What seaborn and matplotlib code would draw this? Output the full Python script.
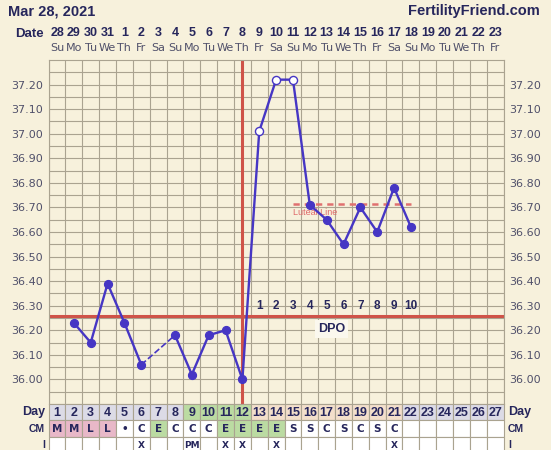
import numpy as np
import pandas as pd
import matplotlib
matplotlib.use('Agg')
import matplotlib.pyplot as plt
import matplotlib.transforms as mtransforms
import seaborn as sns

# chart values
cycle_days = list(range(1, 28))
dates = [28, 29, 30, 31] + list(range(1, 24))
weekdays = ['Su', 'Mo', 'Tu', 'We', 'Th', 'Fr', 'Sa'] * 4
temp_days = [2, 3, 4, 5, 6, 8, 9, 10, 11, 12, 13, 14, 15, 16, 17, 18, 19, 20, 21, 22]
temps = [36.23, 36.15, 36.39, 36.23, 36.06, 36.18, 36.02, 36.18, 36.20, 36.00,
         37.01, 37.22, 37.22, 36.71, 36.65, 36.55, 36.70, 36.60, 36.78, 36.62]
open_days = [13, 14, 15]
coverline = 36.26
ovulation_day = 12
luteal_start, luteal_end, luteal_temp = 15, 22, 36.715
dpo_days = list(range(13, 23))
dpo_labels = [str(i) for i in range(1, 11)]
cm_labels = ['M', 'M', 'L', 'L', '\u2022', 'C', 'E', 'C', 'C', 'C', 'E', 'E', 'E', 'E',
             'S', 'S', 'C', 'S', 'C', 'S', 'C'] + [''] * 6
i_labels = [''] * 27
for d, t in [(6, 'X'), (9, 'PM'), (11, 'X'), (12, 'X'), (14, 'X'), (21, 'X')]:
    i_labels[d - 1] = t

# colours
BG = '#f7f1dc'
GRID = '#aaa390'
NAVY = '#26265c'
TICK = '#50506a'
LINE = '#4636c4'
RED = '#cf5348'
LAV = '#dcdbe6'
GREEN = '#bbdba2'
PEACH = '#f3dfcb'
PINK = '#e8b8c8'

day_colors = [LAV] * 8 + [GREEN] * 4 + [PEACH] * 9 + [LAV] * 6
cm_colors = [PINK] * 4 + ['white', 'white', GREEN, 'white', 'white', 'white',
                          GREEN, GREEN, GREEN, GREEN] + ['white'] * 13

sns.set_style('white')
plt.rcParams['font.family'] = ['DejaVu Sans']

W, H = 551, 450
fig = plt.figure(figsize=(W / 100, H / 100), dpi=100, facecolor=BG)

x0, x1 = 48.6, 503.6
ax = fig.add_axes([x0 / W, 1 - 404 / H, (x1 - x0) / W, (404 - 60) / H])
ax.set_facecolor(BG)

df = pd.DataFrame({'day': temp_days, 'temp': temps})
df['segment'] = np.where(df['day'] < 7, 'a', 'b')

# grid
ax.set_xlim(0.5, 27.5)
ax.set_ylim(35.90, 37.30)
ax.set_xticks(np.arange(0.5, 27.6, 1.0))
ax.set_xticklabels([])
ax.set_yticks(np.round(np.arange(36.0, 37.21, 0.1), 2))
ax.set_yticks(np.round(np.arange(35.95, 37.30, 0.1), 2), minor=True)
ax.set_yticklabels(['%.2f' % v for v in np.arange(36.0, 37.21, 0.1)])
ax.grid(True, which='both', color=GRID, linewidth=0.8)
ax.tick_params(axis='both', which='both', length=0)
ax.tick_params(axis='y', labelleft=True, labelright=True, labelsize=8, labelcolor=TICK, pad=4)
for s in ax.spines.values():
    s.set_color(GRID)
    s.set_linewidth(0.8)
ax.set_axisbelow(True)

# coverline and ovulation
ax.axhline(coverline, color=RED, linewidth=2.2, zorder=2)
ax.axvline(ovulation_day, color=RED, linewidth=2.2, zorder=2)

# luteal line
ax.plot([luteal_start, luteal_end], [luteal_temp, luteal_temp], color='#e07070',
        linestyle=(0, (2.5, 2)), linewidth=1.8, zorder=2)
ax.text(luteal_start, luteal_temp - 0.036, 'Luteal Line', color='#e06a6a', fontsize=6.5,
        ha='left', va='center', family='Liberation Sans')

# temperatures
sns.lineplot(data=df, x='day', y='temp', units='segment', estimator=None, color=LINE,
             linewidth=1.7, ax=ax, zorder=3)
gap = df[df['day'].isin([6, 8])]
sns.lineplot(data=gap, x='day', y='temp', color=LINE, linewidth=1.2, linestyle='--',
             ax=ax, zorder=3)
closed = df[~df['day'].isin(open_days)]
opened = df[df['day'].isin(open_days)]
sns.scatterplot(data=closed, x='day', y='temp', color=LINE, s=34, edgecolor=LINE,
                linewidth=0.8, ax=ax, zorder=4)
sns.scatterplot(data=opened, x='day', y='temp', color='white', s=34, edgecolor=LINE,
                linewidth=1.0, ax=ax, zorder=4)
ax.set_xlabel('')
ax.set_ylabel('')

# DPO
for d, lab in zip(dpo_days, dpo_labels):
    ax.text(d, 36.30, lab, color=NAVY, fontsize=8.5, fontweight='bold', ha='center',
            va='center', family='Liberation Sans', zorder=5)
ax.text(17.3, 36.205, 'DPO', color=NAVY, fontsize=9, fontweight='bold', ha='center',
        va='center', family='Liberation Sans', zorder=5,
        bbox=dict(facecolor='#fbf8ee', edgecolor='none', pad=2))

# header
tr = mtransforms.blended_transform_factory(ax.transData, fig.transFigure)
fig.text(8 / W, 1 - 11 / H, 'Mar 28, 2021', color=NAVY, fontsize=10.5, fontweight='bold',
         ha='left', va='center', family='Liberation Sans')
fig.text(540 / W, 1 - 11 / H, 'FertilityFriend.com', color=NAVY, fontsize=10.5,
         fontweight='bold', ha='right', va='center', family='Liberation Sans')
fig.text(44 / W, 1 - 34 / H, 'Date', color=NAVY, fontsize=9.5, fontweight='bold',
         ha='right', va='center', family='Liberation Sans')
for d, dt, wd in zip(cycle_days, dates, weekdays):
    ax.text(d, 1 - 33 / H, str(dt), transform=tr, color=NAVY, fontsize=9, fontweight='bold',
            ha='center', va='center', family='Liberation Sans')
    ax.text(d, 1 - 48 / H, wd, transform=tr, color=TICK, fontsize=8,
            ha='center', va='center')

# table below the chart
axt = fig.add_axes([x0 / W, 0, (x1 - x0) / W, 46 / H])
axt.set_xlim(0.5, 27.5)
axt.set_ylim(46, 0)
axt.axis('off')
rows = [(0, 16), (16, 17), (33, 17)]
axt.bar(cycle_days, rows[0][1], bottom=rows[0][0], width=1, color=day_colors,
        edgecolor=GRID, linewidth=0.8, clip_on=False)
axt.bar(cycle_days, rows[1][1], bottom=rows[1][0], width=1, color=cm_colors,
        edgecolor=GRID, linewidth=0.8, clip_on=False)
axt.bar(cycle_days, rows[2][1], bottom=rows[2][0], width=1, color='white',
        edgecolor=GRID, linewidth=0.8, clip_on=False)
for d, cm, il in zip(cycle_days, cm_labels, i_labels):
    axt.text(d, 8.5, str(d), color=NAVY, fontsize=9, fontweight='bold', ha='center',
             va='center', family='Liberation Sans')
    if cm:
        axt.text(d, 25, cm, color=NAVY, fontsize=7.5, fontweight='bold', ha='center',
                 va='center')
    if il:
        axt.text(d, 41.5, il, color=NAVY, fontsize=6.5, fontweight='bold', ha='center',
                 va='center')
for y, lab in [(8.5, 'Day'), (25, 'CM'), (41.5, 'I')]:
    axt.text(0.3, y, lab, color=NAVY, fontsize=9 if lab == 'Day' else 7.5,
             fontweight='bold', ha='right', va='center', family='Liberation Sans')
    axt.text(27.75, y, lab, color=NAVY, fontsize=9 if lab == 'Day' else 7.5,
             fontweight='bold', ha='left', va='center', family='Liberation Sans')

fig.savefig('out.png', dpi=100, facecolor=BG)
